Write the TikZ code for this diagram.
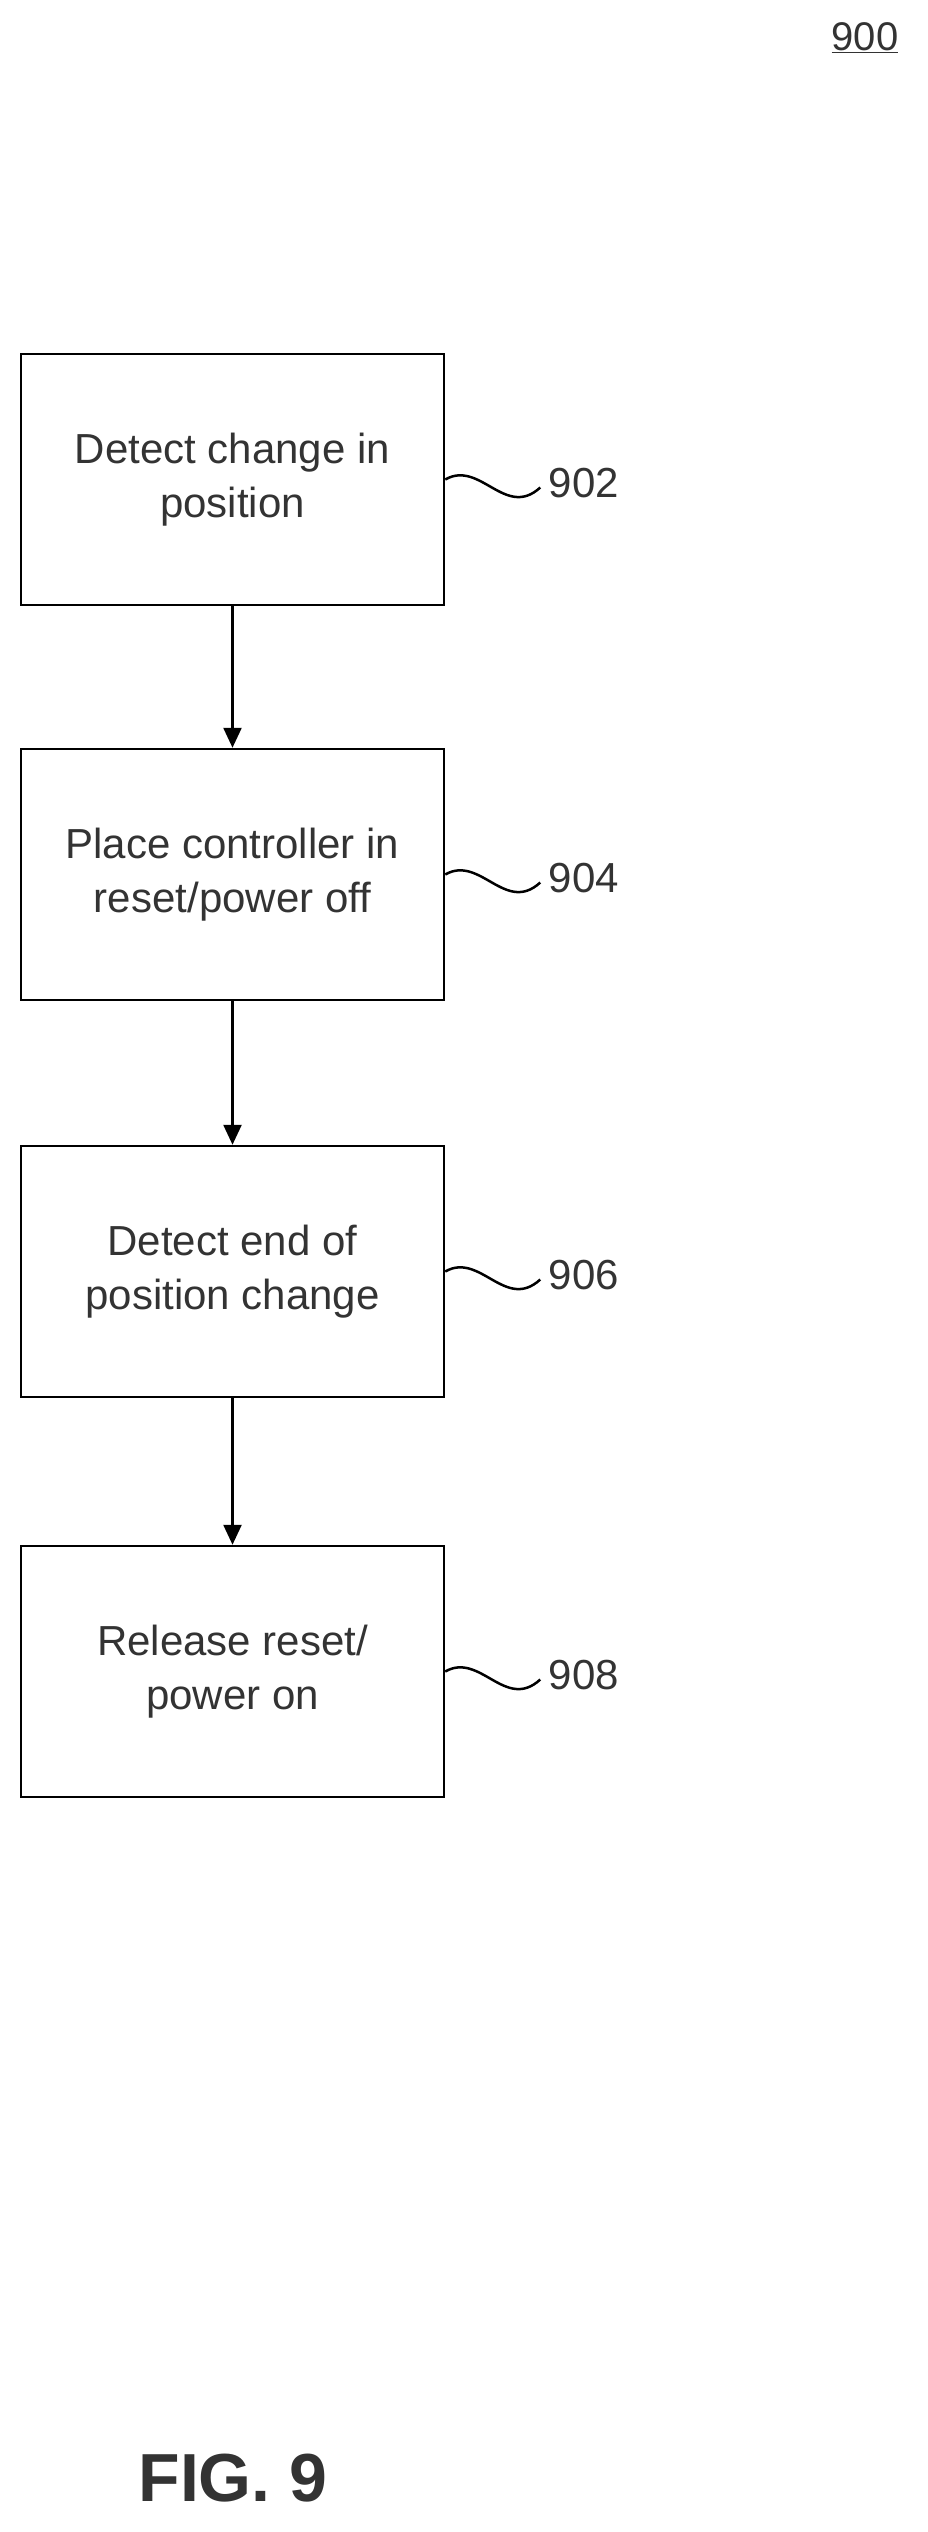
\documentclass[tikz,border=0pt]{standalone}
\usepackage{fontspec}
\setmainfont{Liberation Sans}
\usetikzlibrary{arrows.meta}
\begin{document}
\begin{tikzpicture}[x=1pt,y=-1pt,
  box/.style={draw,line width=2.5pt,minimum width=423pt,minimum height=251pt,inner sep=0pt,align=center,font=\fontsize{42}{54}\selectfont,text=black!80},
  arr/.style={line width=2.5pt,-{Triangle[length=20pt,width=18pt]}},
  sq/.style={line width=2.5pt},
  lab/.style={font=\fontsize{42}{50}\selectfont,anchor=west,text=black!80}]
\useasboundingbox (0,0) rectangle (928,2532);
\node[font=\fontsize{40}{48}\selectfont,text=black!80] (n900) at (865,38) {\underline{900}};
\node[box] (b1) at (232.5,479.5) {Detect change in\\position};
\node[box] (b2) at (232.5,874.5) {Place controller in\\reset/power off};
\node[box] (b3) at (232.5,1271.5) {Detect end of\\position change};
\node[box] (b4) at (232.5,1671.5) {Release reset/\\power on};
\foreach \b/\t in {b1/902,b2/904,b3/906,b4/908}{
  \coordinate (s\t) at ([xshift=95pt,yshift=-8pt]\b.east);
  \node[lab] (l\t) at ([xshift=100pt,yshift=-4pt]\b.east) {\t};
  \draw[sq] (\b.east) .. controls ([xshift=35pt,yshift=20pt]\b.east) and ([xshift=60pt,yshift=-40pt]\b.east) .. (s\t);
}
\draw[arr] (b1) -- (b2);
\draw[arr] (b2) -- (b3);
\draw[arr] (b3) -- (b4);
\node[font=\bfseries\fontsize{68}{80}\selectfont,text=black!80] (fig) at (233,2478) {FIG. 9};
\end{tikzpicture}
\end{document}
